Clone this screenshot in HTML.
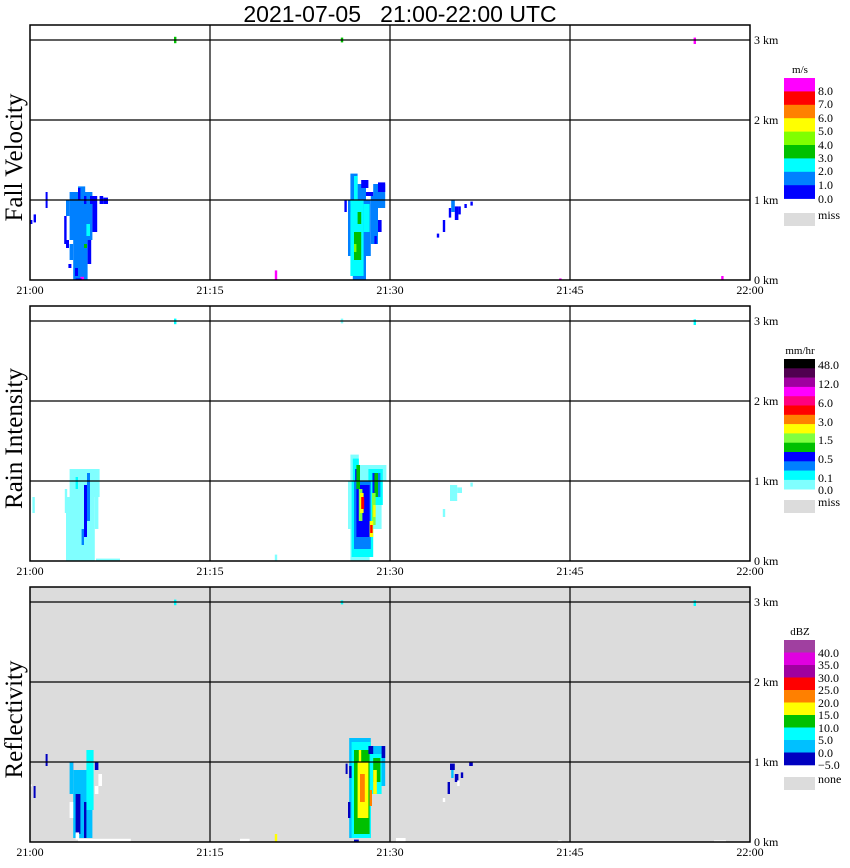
<!DOCTYPE html>
<html><head><meta charset="utf-8"><style>
body{margin:0;background:#fff;width:850px;height:868px;overflow:hidden}
svg{display:block}
text{font-family:"Liberation Serif",serif;fill:#000}
</style></head><body>
<svg id="chart" width="850" height="868" viewBox="0 0 850 868" xmlns="http://www.w3.org/2000/svg">
<text x="400" y="22" text-anchor="middle" style="font-family:'Liberation Sans',sans-serif;font-size:23px;white-space:pre">2021-07-05   21:00-22:00 UTC</text>
</svg>
<script>
// time ticks (minutes after 21:00) and labels
const timeTicks=[0,15,30,45,60];
const timeLabels=["21:00","21:15","21:30","21:45","22:00"];
const heightTicks=[0,1,2,3];
const heightLabels=["0 km","1 km","2 km","3 km"];
const panelTitles=["Fall Velocity","Rain Intensity","Reflectivity"];
// color scales
const fvBounds=[0,1,2,3,4,5,6,7,8];
const fvColors=["#0000ff","#0080ff","#00ffff","#00c000","#80ff00","#ffff00","#ff8000","#ff0000","#ff00ff"];
const fvLabels=["8.0","7.0","6.0","5.0","4.0","3.0","2.0","1.0","0.0"];
const riBounds=[0,0.1,0.2,0.5,1,1.5,2,3,4.5,6,9,12,24,48];
const riColors=["#80ffff","#00ffff","#0080ff","#0000ff","#00c000","#80ff40","#ffff00","#ff8000","#ff0000","#ff0080","#ff00ff","#a000a0","#500050","#000000"];
const riLabels=["48.0","12.0","6.0","3.0","1.5","0.5","0.1","0.0"];
const dbzBounds=[-5,0,5,10,15,20,25,30,35,40];
const dbzColors=["#0000c0","#00c0ff","#00ffff","#00c000","#ffff00","#ff8000","#ff0000","#a000a0","#e000e0","#a040a0"];
const dbzLabels=["40.0","35.0","30.0","25.0","20.0","15.0","10.0","5.0","0.0","\u22125.0"];
// cells: [tStartMin, tEndMin, bottomKm, topKm, value]
const fallVelocityCells=[
[3.6,4.8,0.0,0.5,1.5],[3.3,5.2,0.5,1.1,1.5],[4.0,4.6,1.1,1.17,1.5],[3.0,3.3,0.8,1.0,1.5],[3.3,3.6,0.25,0.45,1.5],
[5.2,5.6,0.6,1.05,0.5],[4.8,5.1,0.2,0.5,0.5],[4.7,5.0,0.55,0.7,2.5],[4.5,4.75,0.4,0.45,3.5],[4.2,4.5,0.0,0.04,8.5],
[3.0,3.25,0.4,0.5,0.5],[3.2,3.45,0.15,0.2,0.5],[4.0,4.2,1.0,1.15,0.5],[4.5,4.7,0.95,1.05,0.5],[3.75,4.0,0.05,0.15,0.5],
[3.8,4.3,0.0,0.02,0.5],[5.8,6.1,0.95,1.05,0.5],[6.1,6.5,0.95,1.03,0.5],[5.0,5.3,0.95,1.05,0.5],[1.3,1.45,0.9,1.1,0.5],
[0.3,0.5,0.72,0.82,0.5],[0.0,0.2,0.7,0.75,0.5],[2.85,3.05,0.45,0.8,0.5],
[26.7,27.3,1.0,1.33,1.5],[26.5,28.4,0.3,1.0,1.5],[26.9,28.0,0.0,0.3,1.5],[28.4,29.0,0.45,1.05,1.5],[28.6,29.6,0.9,1.2,1.5],[27.3,28.0,1.0,1.2,1.5],
[27.6,28.2,1.15,1.25,0.5],[29.0,29.6,1.1,1.22,0.5],[28.0,28.6,1.05,1.1,0.5],[26.2,26.4,0.85,1.0,0.5],[26.7,26.9,0.85,0.95,0.5],[29.0,29.3,0.6,0.75,0.5],[28.7,28.9,0.45,0.55,0.5],
[26.7,27.8,0.05,1.0,2.5],[27.0,27.3,1.0,1.3,2.5],[27.8,28.3,0.6,0.95,2.5],
[27.0,27.6,0.25,0.6,3.5],[27.3,27.6,0.7,0.85,3.5],[27.0,27.2,0.35,0.45,4.5],
[33.9,34.1,0.53,0.58,0.5],[34.4,34.6,0.6,0.75,0.5],[34.9,35.1,0.78,0.9,0.5],[35.1,35.4,0.85,1.0,1.5],[35.4,35.7,0.75,0.92,0.5],[35.7,35.9,0.82,0.92,0.5],[36.2,36.4,0.9,0.95,0.5],[36.7,36.9,0.93,0.98,0.5],
[12.0,12.2,2.96,3.04,3.5],[25.9,26.1,2.97,3.03,3.5],[55.3,55.5,2.95,3.03,8.5],[20.4,20.6,0.0,0.12,8.5],[44.1,44.3,0.0,0.02,8.5],[57.6,57.8,0.0,0.05,8.5]
];
const rainIntensityCells=[
[3.0,5.4,0.0,0.8,0.03],[3.3,5.8,0.8,1.15,0.03],[5.4,5.7,0.4,0.8,0.03],[2.9,3.1,0.6,0.9,0.03],[0.2,0.4,0.6,0.8,0.03],[5.5,7.5,0.0,0.03,0.03],
[4.5,4.75,0.3,0.95,0.7],[4.75,5.0,0.5,1.1,0.3],[4.3,4.5,0.2,0.4,0.3],[3.8,4.0,0.9,1.05,0.15],
[26.7,28.3,0.0,0.4,0.03],[26.5,29.3,0.4,1.0,0.03],[26.7,27.4,1.0,1.33,0.03],[27.4,29.7,1.0,1.2,0.03],
[26.8,28.6,0.05,1.0,0.15],[26.9,27.4,1.0,1.28,0.15],[28.2,29.4,0.7,1.15,0.15],
[27.0,28.4,0.15,1.0,0.3],[28.5,29.2,0.8,1.1,0.3],
[27.2,28.3,0.3,0.95,0.7],[27.1,27.4,1.0,1.15,0.7],[28.6,29.0,0.85,1.1,0.7],
[27.2,27.5,0.9,1.2,1.2],[27.4,27.7,0.5,0.9,1.8],[27.5,27.8,0.6,0.85,2.5],[27.6,27.85,0.65,0.8,5],
[28.7,29.0,0.8,1.1,1.2],[28.5,28.8,0.45,0.85,1.8],[28.6,28.8,0.55,0.7,2.5],[28.3,28.6,0.3,0.5,2.5],[28.35,28.55,0.35,0.45,5],
[34.4,34.6,0.55,0.65,0.03],[35.0,35.6,0.75,0.95,0.03],[35.6,36.0,0.85,0.92,0.03],[36.7,36.9,0.93,0.98,0.03],
[12.0,12.2,2.96,3.03,0.15],[25.9,26.1,2.97,3.03,0.03],[55.3,55.5,2.95,3.02,0.15],[20.4,20.6,0.0,0.08,0.03]
];
const reflectivityCells=[
[3.6,5.2,0.05,0.9,2.5],[4.7,5.3,0.4,1.15,7.5],[3.8,4.2,0.1,0.6,-2.5],[4.5,4.7,0.05,0.5,-2.5],[3.4,3.6,0.9,1.0,-2.5],[5.4,5.7,0.9,1.0,-2.5],
[3.3,3.6,0.6,1.0,2.5],[3.3,3.6,0.3,0.5,-10],[4.0,8.4,0.0,0.04,-10],[3.8,4.1,0.03,0.12,-10],[5.4,5.7,0.6,0.7,-10],[5.7,6.0,0.7,0.85,-10],
[1.3,1.45,0.95,1.1,-2.5],[0.3,0.45,0.55,0.7,-2.5],[0.0,0.1,0.7,0.72,-10],
[26.6,28.4,0.05,1.3,2.5],[28.3,29.6,0.7,1.2,2.5],[26.8,28.4,0.05,1.25,7.5],[28.4,29.3,0.6,1.1,7.5],
[27.0,28.3,0.1,1.15,12.5],[28.6,29.2,0.75,1.05,12.5],[27.3,28.2,0.3,1.0,17.5],[27.4,27.6,1.0,1.15,17.5],[28.6,28.9,0.6,0.9,17.5],
[27.5,27.9,0.5,0.85,22.5],[28.3,28.5,0.45,0.65,22.5],
[26.5,26.7,0.3,0.5,-2.5],[26.6,26.8,0.8,0.95,-2.5],[26.3,26.4,0.85,0.98,-2.5],[28.2,28.6,1.1,1.2,-2.5],[29.3,29.6,1.05,1.2,-2.5],[27.0,27.4,0.0,0.03,-2.5],
[35.0,35.4,0.9,0.98,-2.5],[34.8,35.0,0.6,0.75,-2.5],[35.1,35.3,0.8,0.9,2.5],[35.4,35.7,0.75,0.85,-2.5],[35.9,36.1,0.8,0.87,-2.5],[36.6,36.9,0.95,1.0,-2.5],[34.4,34.6,0.5,0.55,-10],[35.6,35.8,0.7,0.77,-10],
[12.0,12.2,2.96,3.03,7.5],[25.9,26.1,2.97,3.02,7.5],[55.3,55.5,2.95,3.02,7.5],[20.4,20.6,0.0,0.1,15],[17.5,18.3,0.0,0.04,-10],[30.5,31.3,0.0,0.05,-10],[44,44.3,0,0.02,-10],[57,58,0,0.02,-10]
];

const svg=document.getElementById('chart');
const NS='http://www.w3.org/2000/svg';
const X0=30,X1=750,PX_PER_MIN=12,PX_PER_KM=80;
function xScale(t){return X0+t*PX_PER_MIN;}
function yScale(km,p){return 280+281*p-km*PX_PER_KM;}
function colorFor(v,bounds,colors){
  if(v<bounds[0])return '#ffffff';
  let i=0;for(let k=0;k<colors.length;k++){if(v>=bounds[k])i=k;}
  return colors[i];
}
function mk(tag,attrs,parent){const e=document.createElementNS(NS,tag);for(const k in attrs)e.setAttribute(k,attrs[k]);(parent||svg).appendChild(e);return e;}
function txt(x,y,s,size,anchor,parent){const e=mk('text',{x:x,y:y,'font-size':size,'text-anchor':anchor||'start'},parent);e.textContent=s;return e;}

const panels=[
 {cells:fallVelocityCells,bounds:fvBounds,colors:fvColors,bg:'#ffffff',name:'fall-velocity'},
 {cells:rainIntensityCells,bounds:riBounds,colors:riColors,bg:'#ffffff',name:'rain-intensity'},
 {cells:reflectivityCells,bounds:dbzBounds,colors:dbzColors,bg:'#dcdcdc',name:'reflectivity'}
];
panels.forEach((P,p)=>{
  const g=mk('g',{});
  
  
  const top=25+281*p,bot=280+281*p;
  const bg=mk('rect',{x:X0,y:top,width:X1-X0,height:bot-top,fill:P.bg},g);
  
  
  P.cells.forEach(c=>{
    const x=xScale(c[0]),w=Math.max(2,xScale(c[1])-x);
    const y=yScale(c[3],p),h=Math.max(2,yScale(c[2],p)-y);
    const r=mk('rect',{x:x,y:y,width:w,height:h,fill:colorFor(c[4],P.bounds,P.colors)},g);
    
    
  });
  heightTicks.forEach((k,i)=>{
    const y=yScale(k,p);
    if(k>0){const l=mk('line',{x1:X0,x2:X1,y1:y,y2:y,stroke:'#000','stroke-width':1.2},g);
      
      }
    const t=txt(754,y+4,heightLabels[i],12,'start',g);
    
    
  });
  timeTicks.forEach((m,i)=>{
    const x=xScale(m);
    if(m>0&&m<60){const l=mk('line',{x1:x,x2:x,y1:top,y2:bot,stroke:'#000','stroke-width':1.2},g);
      
      }
    const t=txt(x,bot+14,timeLabels[i],12,'middle',g);
    
    
  });
  const fr=mk('rect',{x:X0,y:top,width:X1-X0,height:bot-top,fill:'none',stroke:'#000','stroke-width':1.5},g);
  
  
  const cy=(top+bot)/2+5;
  const yt=txt(0,0,panelTitles[p],25,'middle',g);
  yt.setAttribute('transform','translate(22,'+cy+') rotate(-90)');
  
  
});

// legends
function legend(p,title,colors,boxTop,boxH,labels,labelYs,missLabel,missTop){
  const g=mk('g',{});
  
  
  const tt=txt(800,boxTop-5,title,11,'middle',g);
  
  
  const n=colors.length;
  for(let i=0;i<n;i++){
    const r=mk('rect',{x:784,y:boxTop+i*boxH,width:31,height:boxH+0.3,fill:colors[n-1-i]},g);
    
    
  }
  labels.forEach((s,i)=>{const t=txt(818,labelYs[i]+4,s,12,'start',g);
    
    });
  const m=mk('rect',{x:784,y:missTop,width:31,height:13,fill:'#dcdcdc'},g);
  
  
  const mt=txt(818,missTop+6,missLabel,12,'start',g);
  
  
}
legend(0,'m/s',fvColors,78,13.4,fvLabels,[91,104,118,131,145,158,171,185,199],'miss',213);
legend(1,'mm/hr',riColors,359,9.3,riLabels,[365,384,403,422,440,459,478,490],'miss',500);
legend(2,'dBZ',dbzColors,640,12.5,dbzLabels,[653,665,678,690,703,715,728,740,753,765],'none',777);
</script>
</body></html>
